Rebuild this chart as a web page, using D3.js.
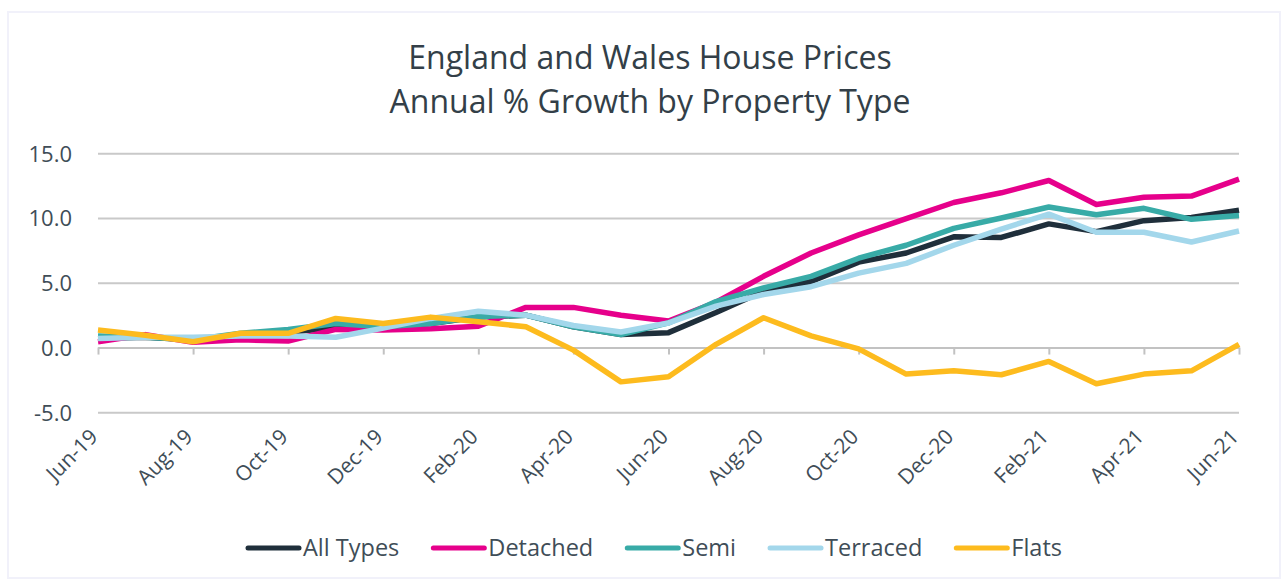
<!DOCTYPE html>
<html>
<head>
<meta charset="utf-8">
<script src="https://cdn.jsdelivr.net/npm/d3@7"></script>
<style>
  body { margin: 0; background: #fff; }
  svg { font-family: "Open Sans", sans-serif; }
  .grid line { stroke: #c9c9c9; stroke-width: 2; }
  .grid text { fill: #404d57; font-size: 22px; font-family: "Open Sans", sans-serif; }
  .xlabels text { fill: #404d57; font-size: 21px; }
  .title { fill: #333f48; font-size: 32px; }
  .legend text { fill: #404d57; font-size: 23.5px; }
</style>
</head>
<body>
<svg id="chart" width="1288" height="581"></svg>
<script>
// months on the category axis
const months = ["Jun-19","Jul-19","Aug-19","Sep-19","Oct-19","Nov-19","Dec-19",
  "Jan-20","Feb-20","Mar-20","Apr-20","May-20","Jun-20","Jul-20","Aug-20","Sep-20",
  "Oct-20","Nov-20","Dec-20","Jan-21","Feb-21","Mar-21","Apr-21","May-21","Jun-21"];

// annual % growth
const allTypes = [0.7,0.8,0.6,1.0,1.2,1.5,1.5,1.85,2.35,2.5,1.6,1.0,1.15,2.7,4.35,5.1,6.6,7.3,8.55,8.5,9.55,8.95,9.8,10.05,10.6];
const detached = [0.45,1.0,0.4,0.6,0.5,1.4,1.35,1.45,1.65,3.1,3.1,2.5,2.05,3.5,5.5,7.3,8.7,9.95,11.2,11.95,12.9,11.05,11.6,11.7,13.0];
const semi = [0.9,0.8,0.6,1.1,1.4,1.85,1.6,1.85,2.4,2.5,1.6,1.0,1.9,3.55,4.6,5.5,6.9,7.9,9.2,10.0,10.85,10.25,10.75,9.9,10.2];
const terraced = [0.7,0.8,0.8,0.9,0.9,0.8,1.5,2.25,2.8,2.5,1.7,1.2,1.9,3.2,4.1,4.7,5.75,6.5,7.9,9.15,10.3,8.9,8.9,8.15,9.0];
const flats = [1.35,0.95,0.45,1.1,1.1,2.25,1.85,2.35,2.0,1.6,-0.2,-2.65,-2.25,0.25,2.3,0.9,-0.1,-2.05,-1.8,-2.1,-1.07,-2.8,-2.05,-1.8,0.25];

const seriesNames = ["All Types","Detached","Semi","Terraced","Flats"];
const seriesValues = [allTypes, detached, semi, terraced, flats];
const colors = ["#1f2f3b","#e6008b","#38aba7","#a3d7eb","#fdbb1e"];
const yTicks = [-5, 0, 5, 10, 15];

let margin = {top: 153, right: 49, bottom: 169, left: 98};
let width = 1288, height = 581;

let svg = d3.select("#chart");

// faint chart frame
svg.append("rect")
  .attr("x", 8).attr("y", 12)
  .attr("width", 1272).attr("height", 566)
  .attr("fill", "none")
  .attr("stroke", "#f1f1fa")
  .attr("stroke-width", 2);

let scales = {
  x: d3.scalePoint()
    .domain(months)
    .range([margin.left, width - margin.right]),
  y: d3.scaleLinear()
    .domain([-5, 15])
    .range([412.3, margin.top + 0.3])
};

// title
svg.append("text")
  .attr("class", "title")
  .attr("x", 650).attr("y", 69)
  .attr("text-anchor", "middle")
  .text("England and Wales House Prices");
svg.append("text")
  .attr("class", "title")
  .attr("x", 650).attr("y", 113)
  .attr("text-anchor", "middle")
  .text("Annual % Growth by Property Type");

// y gridlines + labels
let y_axis = d3.axisLeft(scales.y)
  .tickValues(yTicks)
  .tickFormat(d => d.toFixed(1))
  .tickSize(-(scales.x.range()[1] - margin.left))
  .tickPadding(26);
svg.append("g")
  .attr("class", "grid")
  .attr("transform", `translate(${margin.left}, 0)`)
  .call(y_axis)
  .attr("font-family", null)
  .attr("font-size", null)
  .call(g => g.select(".domain").remove())
  .call(g => g.selectAll("text").attr("dy", "0.36em"));

// category axis sitting on zero
let tickMonths = months.filter((d, i) => i % 2 == 0);
let x_axis = d3.axisBottom(scales.x)
  .tickValues(tickMonths)
  .tickSize(7)
  .tickSizeOuter(0)
  .tickFormat("");
svg.append("g")
  .attr("transform", `translate(0, ${scales.y(0)})`)
  .call(x_axis)
  .call(g => g.select(".domain").attr("stroke", "#c2c2c2").attr("stroke-width", 2))
  .call(g => g.selectAll(".tick line").attr("stroke", "#c2c2c2").attr("stroke-width", 2));

// rotated month labels below the plot
svg.append("g")
  .attr("class", "xlabels")
  .selectAll("text")
  .data(tickMonths).enter()
  .append("text")
  .attr("text-anchor", "end")
  .attr("transform", d => `translate(${scales.x(d) + 1}, 438) rotate(-45)`)
  .text(d => d);

// lines
let path_generator = d3.line()
  .x((d, i) => scales.x(months[i]))
  .y(d => scales.y(d));

svg.append("g")
  .selectAll("path")
  .data(seriesValues).enter()
  .append("path")
  .attr("d", path_generator)
  .attr("fill", "none")
  .attr("stroke", (d, i) => colors[i])
  .attr("stroke-width", 5.5)
  .attr("stroke-linejoin", "round");

// legend
let legend = svg.append("g").attr("class", "legend");
let items = legend.selectAll("g")
  .data(seriesNames).enter()
  .append("g");
items.append("line")
  .attr("x1", 2).attr("x2", 53)
  .attr("y1", 0).attr("y2", 0)
  .attr("stroke", (d, i) => colors[i])
  .attr("stroke-width", 5)
  .attr("stroke-linecap", "round");
items.append("text")
  .attr("x", 57)
  .attr("dy", "0.35em")
  .text(d => d);

let offsets = [], pos = 0;
items.each(function () {
  offsets.push(pos);
  pos += 57 + this.querySelector("text").getComputedTextLength() + 32;
});
let total = pos - 32;
let start = 654 - total / 2;
items.attr("transform", (d, i) => `translate(${start + offsets[i]}, 548)`);
</script>
</body>
</html>
